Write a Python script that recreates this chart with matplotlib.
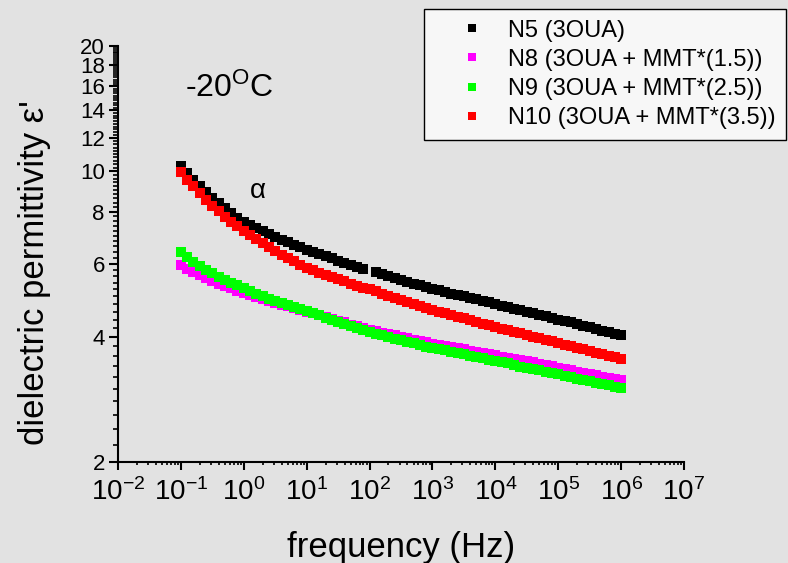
import numpy as np
import matplotlib as mpl
mpl.use('Agg')
import matplotlib.pyplot as plt
from matplotlib.ticker import FixedLocator, LogLocator, FuncFormatter, NullFormatter

plt.rcParams['font.family'] = ['Liberation Sans', 'DejaVu Sans']
plt.rcParams['mathtext.fontset'] = 'custom'
plt.rcParams['mathtext.rm'] = 'Liberation Sans'
plt.rcParams['mathtext.it'] = 'Liberation Sans:italic'

# measurement grid, 10 points per decade, 0.1 Hz .. 1 MHz
freq = np.logspace(-1, 6, 71)

n5 = [10.30, 9.90, 9.53, 9.19, 8.89, 8.62, 8.37, 8.14, 7.94, 7.74, 7.57,
      7.43, 7.30, 7.18, 7.06, 6.95, 6.85, 6.75, 6.65, 6.56, 6.47,
      6.39, 6.31, 6.24, 6.17, 6.10, 6.03, 5.96, 5.90, 5.83, np.nan,
      5.71, 5.66, 5.60, 5.54, 5.48, 5.43, 5.37, 5.32, 5.26, 5.21,
      5.17, 5.12, 5.08, 5.04, 5.00, 4.96, 4.92, 4.88, 4.84, 4.80,
      4.75, 4.71, 4.67, 4.63, 4.59, 4.56, 4.52, 4.48, 4.44, 4.40,
      4.36, 4.33, 4.29, 4.25, 4.22, 4.18, 4.14, 4.11, 4.07, 4.04]
n8 = [5.94, 5.83, 5.72, 5.62, 5.54, 5.45, 5.37, 5.30, 5.23, 5.16, 5.10,
      5.04, 4.98, 4.92, 4.87, 4.82, 4.77, 4.73, 4.68, 4.64, 4.60,
      4.55, 4.51, 4.46, 4.42, 4.37, 4.33, 4.28, 4.24, 4.20, 4.15,
      4.12, 4.09, 4.06, 4.03, 4.00, 3.97, 3.94, 3.91, 3.88, 3.85,
      3.83, 3.80, 3.78, 3.75, 3.73, 3.70, 3.68, 3.65, 3.63, 3.61,
      3.58, 3.56, 3.54, 3.51, 3.49, 3.47, 3.44, 3.42, 3.40, 3.37,
      3.35, 3.33, 3.30, 3.28, 3.26, 3.24, 3.21, 3.19, 3.17, 3.15]
n9 = [6.38, 6.21, 6.06, 5.93, 5.80, 5.69, 5.58, 5.49, 5.40, 5.32, 5.24,
      5.16, 5.08, 5.01, 4.94, 4.88, 4.82, 4.76, 4.71, 4.66, 4.61,
      4.56, 4.50, 4.44, 4.39, 4.34, 4.29, 4.24, 4.20, 4.15, 4.11,
      4.07, 4.04, 4.00, 3.96, 3.93, 3.89, 3.86, 3.83, 3.79, 3.76,
      3.73, 3.71, 3.68, 3.65, 3.63, 3.60, 3.57, 3.55, 3.52, 3.50,
      3.47, 3.45, 3.42, 3.39, 3.37, 3.34, 3.32, 3.29, 3.27, 3.25,
      3.22, 3.20, 3.17, 3.15, 3.13, 3.10, 3.08, 3.06, 3.03, 3.01]
n10 = [9.96, 9.55, 9.19, 8.86, 8.55, 8.27, 8.03, 7.78, 7.57, 7.39, 7.20,
       7.03, 6.86, 6.71, 6.56, 6.43, 6.30, 6.18, 6.07, 5.96, 5.85,
       5.78, 5.70, 5.63, 5.57, 5.50, 5.44, 5.37, 5.31, 5.25, 5.20,
       5.14, 5.08, 5.02, 4.97, 4.91, 4.85, 4.80, 4.75, 4.69, 4.64,
       4.60, 4.55, 4.51, 4.47, 4.43, 4.38, 4.34, 4.30, 4.26, 4.22,
       4.18, 4.15, 4.11, 4.08, 4.04, 4.00, 3.97, 3.93, 3.90, 3.86,
       3.83, 3.80, 3.76, 3.73, 3.70, 3.66, 3.63, 3.60, 3.57, 3.54]

series = [n5, n8, n9, n10]
labels = ['N5 (3OUA)', 'N8 (3OUA + MMT*(1.5))', 'N9 (3OUA + MMT*(2.5))', 'N10 (3OUA + MMT*(3.5))']
colors = ['#000000', '#ff00ff', '#00ff00', '#ff0000']

yticks_major = [2, 4, 6, 8, 10, 12, 14, 16, 18, 20]
yticks_minor = [round(2 + 0.2*i, 1) for i in range(91)]

fig = plt.figure(figsize=(7.88, 5.63), dpi=100, facecolor='#e2e2e2')
ax = fig.add_axes([118/788, 101/563, 566/788, 416/563])
ax.set_facecolor('none')

for y, lab, c in zip(series, labels, colors):
	ax.plot(freq, y, linestyle='none', marker='s', markersize=6.5, markeredgewidth=0, color=c, label=lab)

ax.set_xscale('log'); ax.set_yscale('log')
ax.set_xlim(1e-2, 1e7); ax.set_ylim(2, 20)

ax.xaxis.set_major_locator(LogLocator(base=10, numticks=20))
ax.xaxis.set_minor_locator(LogLocator(base=10, subs=np.arange(2, 10), numticks=20))
ax.xaxis.set_major_formatter(FuncFormatter(lambda v, p: r'$\mathregular{10^{%d}}$' % round(np.log10(v))))
ax.xaxis.set_minor_formatter(NullFormatter())
ax.yaxis.set_major_locator(FixedLocator(yticks_major))
ax.yaxis.set_minor_locator(FixedLocator([t for t in yticks_minor if t not in yticks_major]))
ax.yaxis.set_major_formatter(FuncFormatter(lambda v, p: '%d' % v))
ax.yaxis.set_minor_formatter(NullFormatter())

for s in ['top', 'right']: ax.spines[s].set_visible(False)
for s in ['left', 'bottom']: ax.spines[s].set_linewidth(1.5)
ax.tick_params(axis='y', which='major', direction='out', length=6.5, width=1.5, labelsize=16, pad=3)
ax.tick_params(axis='y', which='minor', direction='out', length=3.6, width=1.2)
ax.tick_params(axis='x', which='major', direction='out', length=5.5, width=1.5, labelsize=20, pad=6)
ax.tick_params(axis='x', which='minor', direction='out', length=2.5, width=1.2)

fig.text(401/788, 1-547/563, 'frequency (Hz)', fontsize=25, ha='center', va='center')
fig.text(35/788, 1-273/563, "dielectric permittivity ε'", fontsize=25, ha='center', va='center', rotation=90)
fig.text(185/788, 1-97/563, r'-20$^{\mathregular{O}}$C', fontsize=23, ha='left', va='baseline')
fig.text(258/788, 1-191/563, 'α', fontsize=20, ha='center', va='center')

leg = ax.legend(loc='upper right', bbox_to_anchor=(786/788, 1-9/563), bbox_transform=fig.transFigure,
	fontsize=17, borderpad=0.45, labelspacing=0.3, handlelength=3.2, handletextpad=-0.1,
	markerscale=0.9, fancybox=False, framealpha=1, borderaxespad=0)
leg.get_frame().set_edgecolor('black'); leg.get_frame().set_linewidth(1.0); leg.get_frame().set_facecolor('#f7f7f7')

fig.savefig('out.png', dpi=100, facecolor=fig.get_facecolor())
